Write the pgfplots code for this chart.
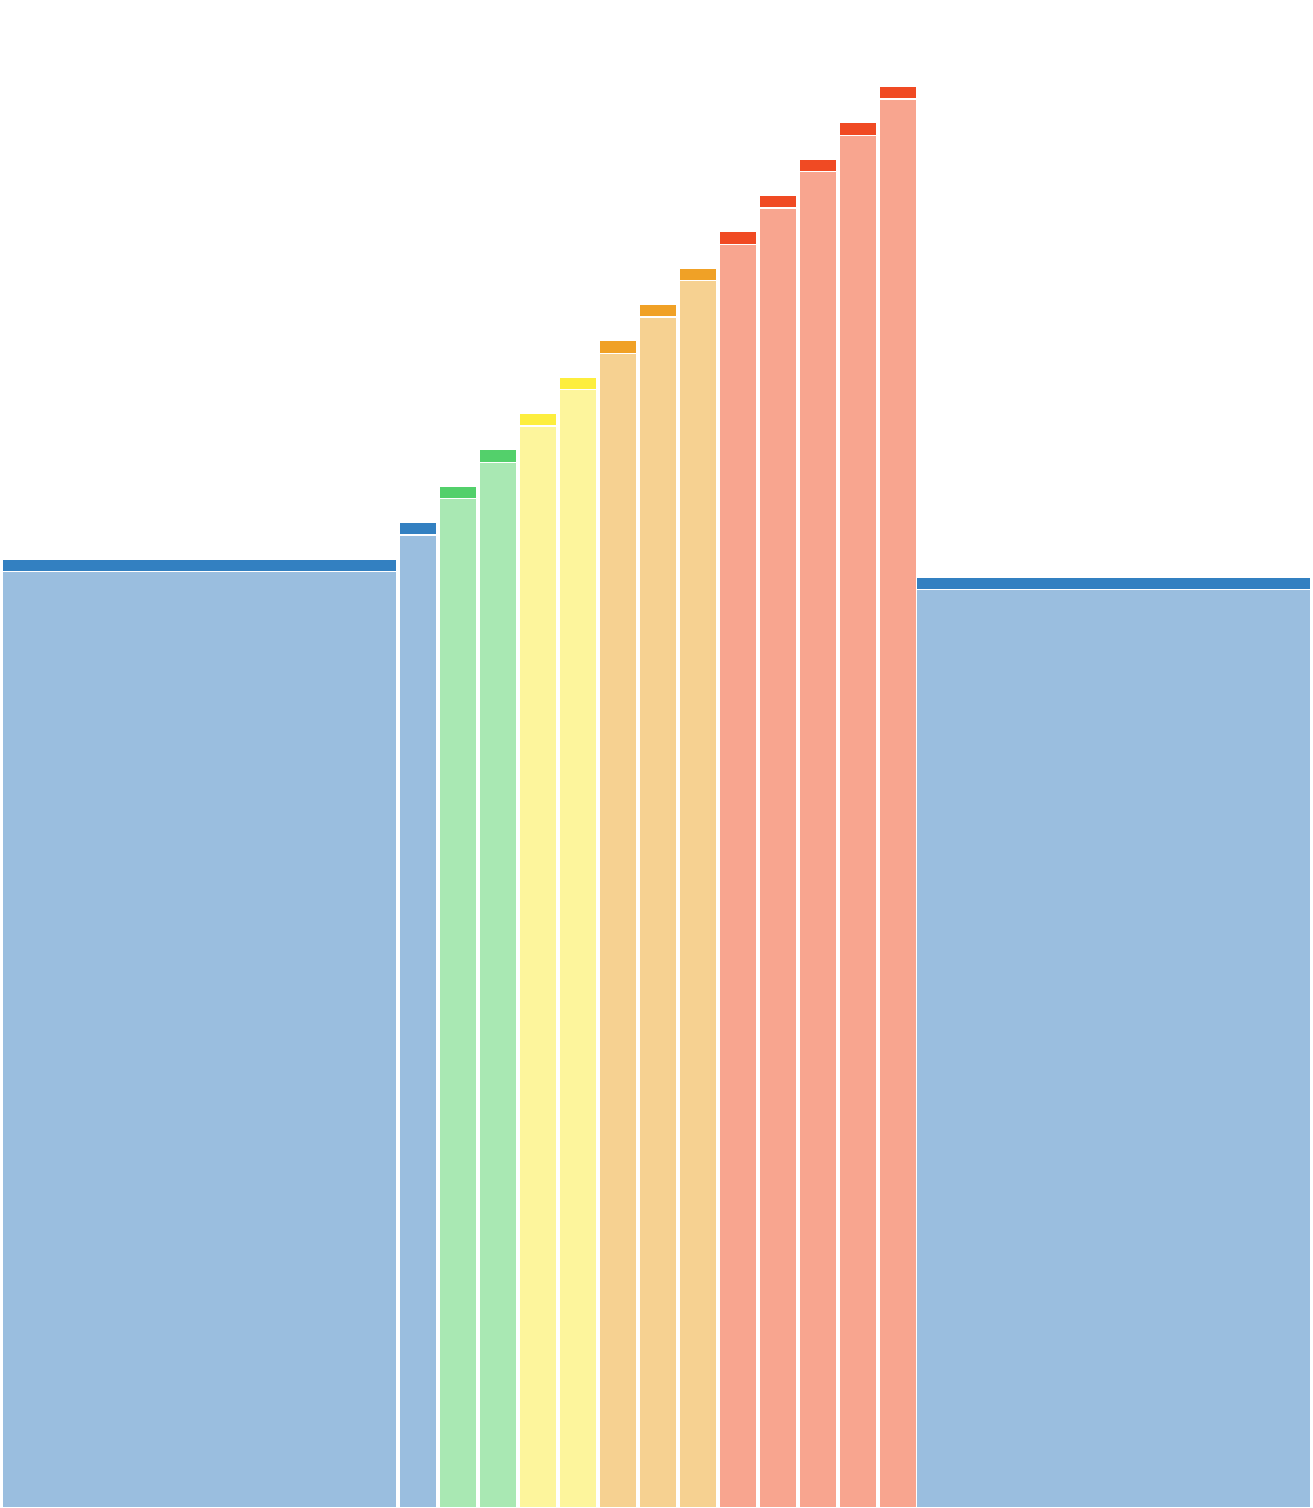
\documentclass[border=0pt]{standalone}
\usepackage{pgfplots}
\pgfplotsset{compat=1.18}
\definecolor{blueL}{HTML}{9ABEDF}
\definecolor{blueD}{HTML}{3380C1}
\definecolor{greenL}{HTML}{A9E8B3}
\definecolor{greenD}{HTML}{53D06B}
\definecolor{yellowL}{HTML}{FDF59C}
\definecolor{yellowD}{HTML}{FDEE3E}
\definecolor{orangeL}{HTML}{F6D191}
\definecolor{orangeD}{HTML}{F0A126}
\definecolor{redL}{HTML}{F8A58F}
\definecolor{redD}{HTML}{F04A23}
\pgfplotsset{
  capbar/.style={ybar, bar shift=0, fill=#1, draw=white, line width=0.25pt},
  bodybar/.style={ybar, bar shift=0, fill=#1, draw=white, line width=0.25pt},
}
\begin{document}
\begin{tikzpicture}
\begin{axis}[
    x=0.2pt, y=0.2pt,
    xmin=0, xmax=1312,
    ymin=0, ymax=1508,
    axis line style={draw=none},
    xtick=\empty, ytick=\empty,
    clip=true,
]
% wide bars (first and last)
\addplot[capbar=blueD, bar width=394] coordinates {(199.5,949) (1113.5,931)};
\addplot[bodybar=blueL, bar width=394] coordinates {(199.5,936.5) (1113.5,918.5)};

% narrow bars: caps
\addplot[capbar=blueD, bar width=37] coordinates {(418,985.5)};
\addplot[capbar=greenD, bar width=37] coordinates {(458,1021.8) (498,1058.2)};
\addplot[capbar=yellowD, bar width=37] coordinates {(538,1094.5) (578,1130.8)};
\addplot[capbar=orangeD, bar width=37] coordinates {(618,1167.2) (658,1203.5) (698,1239.8)};
\addplot[capbar=redD, bar width=37] coordinates {(738,1276.2) (778,1312.5) (818,1348.8) (858,1385.2) (898,1421.5)};

% narrow bars: bodies
\addplot[bodybar=blueL, bar width=37] coordinates {(418,973)};
\addplot[bodybar=greenL, bar width=37] coordinates {(458,1009.3) (498,1045.7)};
\addplot[bodybar=yellowL, bar width=37] coordinates {(538,1082) (578,1118.3)};
\addplot[bodybar=orangeL, bar width=37] coordinates {(618,1154.7) (658,1191) (698,1227.3)};
\addplot[bodybar=redL, bar width=37] coordinates {(738,1263.7) (778,1300) (818,1336.3) (858,1372.7) (898,1409)};
\end{axis}
\end{tikzpicture}
\end{document}
